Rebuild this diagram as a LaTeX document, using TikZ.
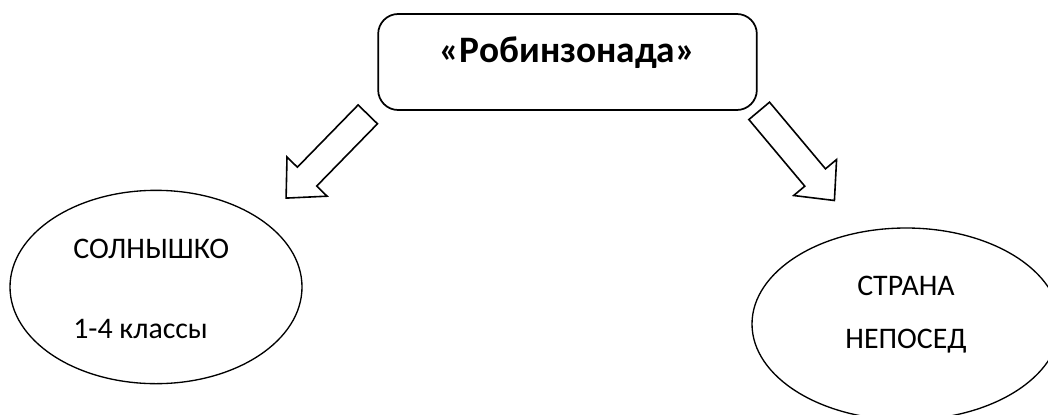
\documentclass[tikz,border=0pt]{standalone}
\usepackage{fontspec}
\setmainfont{Carlito}
\usetikzlibrary{shapes.geometric}

\tikzset{
    titlebox/.style={draw, line width=1.3pt, rounded corners=15pt, inner sep=0pt,
        minimum width=284pt, minimum height=72pt, font=\fontsize{28}{33}\selectfont\bfseries,
        text height=19pt, text depth=19pt},
    groupoval/.style={draw, ellipse, line width=1pt, inner sep=0pt},
    grouptext/.style={font=\fontsize{22.4}{27}\selectfont, inner sep=0pt},
    blockarrow/.pic={
        \draw[line width=1.2pt, fill=white, line join=miter]
            (0,-13.5) -- (87,-13.5) -- (87,-28) -- (117,0) -- (87,28) -- (87,13.5) -- (0,13.5) -- cycle;
    }
}

\begin{document}
\begin{tikzpicture}[x=0.75pt, y=-0.75pt]
    \useasboundingbox (0,0) rectangle (1048,414);
    \clip (0,0) rectangle (1048,414);

    % top box
    \node[titlebox] (title) at (567.5,62) {«Робинзонада»};

    % arrows
    \pic[rotate=225.7] at ([shift={(-9.5,3.5)}]title.south west) {blockarrow};
    \pic[rotate=-50] at ([shift={(1.5,0)}]title.south east) {blockarrow};

    % left group
    \node[groupoval, minimum width=219pt, minimum height=145pt] (sun) at (156,287) {};
    \node[grouptext, anchor=base west] (sunName) at (73,258) {СОЛНЫШКО};
    \node[grouptext, anchor=base west] (sunAge) at (73,338) {1-4 классы};

    % right group
    \node[groupoval, minimum width=231pt, minimum height=144pt] (land) at (906,324) {};
    \node[grouptext, anchor=base] (landTop) at (906,295) {СТРАНА};
    \node[grouptext, anchor=base] (landBottom) at (906,348) {НЕПОСЕД};
\end{tikzpicture}
\end{document}
